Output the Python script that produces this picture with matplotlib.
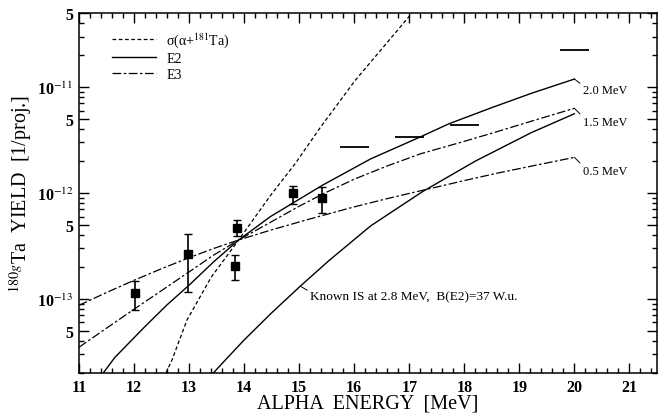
import numpy as np
import matplotlib
matplotlib.use('Agg')
import matplotlib.pyplot as plt
from matplotlib.ticker import FixedLocator, LogLocator, MultipleLocator, NullFormatter

plt.rcParams['font.family'] = ['Liberation Serif', 'DejaVu Serif']
plt.rcParams['mathtext.fontset'] = 'stix'

# sigma(alpha + 181Ta), dashed
sig_e = [12.58, 12.69, 12.96, 13.4, 13.9, 14.48, 14.93, 15.39, 16.02, 16.33, 17.05]
sig_y = [2.0e-14, 2.66e-14, 6.3e-14, 1.6e-13, 3.6e-13, 9.5e-13, 1.9e-12, 4.2e-12, 1.16e-11, 1.8e-11, 5.0e-11]

# E2, 2.0 MeV state
e2_e = [11.44, 11.65, 12.2, 12.6, 13.0, 13.45, 13.9, 14.48, 15.43, 16.3, 17.21, 17.72, 18.5, 19.21, 20.0]
e2_y = [2.0e-14, 2.8e-14, 5.5e-14, 8.8e-14, 1.35e-13, 2.25e-13, 3.6e-13, 6.0e-13, 1.19e-12, 2.1e-12,
        3.4e-12, 4.5e-12, 6.4e-12, 8.7e-12, 1.19e-11]

# E2, known IS at 2.8 MeV
known_e = [13.44, 13.66, 14.0, 14.5, 15.02, 15.54, 16.3, 17.24, 18.2, 19.21, 20.0]
known_y = [2.0e-14, 2.66e-14, 4.1e-14, 7.4e-14, 1.32e-13, 2.3e-13, 4.9e-13, 1.03e-12, 2.0e-12, 3.7e-12, 5.6e-12]

# E3, 1.5 MeV state
e3a_e = [11.0, 11.5, 12.0, 12.5, 13.0, 13.45, 13.9, 14.48, 15.0, 15.43, 16.0, 16.6, 17.21, 17.93, 18.6, 19.21, 20.0]
e3a_y = [3.5e-14, 5.3e-14, 8.0e-14, 1.2e-13, 1.8e-13, 2.6e-13, 3.6e-13, 5.3e-13, 7.5e-13, 9.8e-13,
         1.35e-12, 1.8e-12, 2.35e-12, 3.0e-12, 3.8e-12, 4.75e-12, 6.3e-12]

# E3, 0.5 MeV state
e3b_e = [11.0, 11.5, 12.0, 12.5, 13.0, 13.45, 13.9, 14.48, 15.2, 16.0, 16.6, 17.24, 18.0, 18.6, 19.21, 20.0]
e3b_y = [8.7e-14, 1.15e-13, 1.5e-13, 1.93e-13, 2.45e-13, 3.0e-13, 3.6e-13, 4.46e-13, 5.7e-13, 7.4e-13,
         8.85e-13, 1.06e-12, 1.31e-12, 1.54e-12, 1.79e-12, 2.17e-12]

# measured yields with error bars
pt_e = [12.02, 12.98, 13.87, 13.84, 14.88, 15.42]
pt_y = [1.14e-13, 2.64e-13, 4.65e-13, 2.05e-13, 1.0e-12, 9.0e-13]
pt_lo = [7.9e-14, 1.17e-13, 3.9e-13, 1.51e-13, 7.9e-13, 6.45e-13]
pt_hi = [1.48e-13, 4.1e-13, 5.6e-13, 2.6e-13, 1.16e-12, 1.15e-12]

# horizontal bars at higher energies
bar_e = [16.0, 17.0, 18.0, 20.0]
bar_y = [2.72e-12, 3.37e-12, 4.38e-12, 2.23e-11]

ytick_vals = [5e-14, 1e-13, 5e-13, 1e-12, 5e-12, 1e-11, 5e-11]
ytick_text = ['5', '10$^{-13}$', '5', '10$^{-12}$', '5', '10$^{-11}$', '5']
xtick_vals = list(range(11, 22))

fig = plt.figure(figsize=(6.64, 4.14), dpi=100)
ax = fig.add_axes([79 / 664, 40 / 414, 578 / 664, 360 / 414])

dash = (0, (3, 2))
dashdot = (0, (7, 2, 2, 2))

ax.plot(sig_e, sig_y, color='black', lw=0.9, linestyle=dash, label='σ(α+$^{181}$Ta)')
ax.plot(e2_e, e2_y, color='black', lw=1.0, linestyle='-', label='E2')
ax.plot(known_e, known_y, color='black', lw=1.0, linestyle='-')
ax.plot(e3a_e, e3a_y, color='black', lw=0.9, linestyle=dashdot, label='E3')
ax.plot(e3b_e, e3b_y, color='black', lw=0.9, linestyle=dashdot)

yerr = [np.array(pt_y) - np.array(pt_lo), np.array(pt_hi) - np.array(pt_y)]
ax.errorbar(pt_e, pt_y, yerr=yerr, fmt='s', color='black', ms=6, elinewidth=1.2,
            capsize=3.2, capthick=1.0)

half = 0.26
ax.hlines(bar_y, np.array(bar_e) - half, np.array(bar_e) + half, color='black', lw=1.3)

# curve labels
lab_kw = dict(textcoords='offset points', ha='left', va='center', fontsize=9,
              arrowprops=dict(arrowstyle='-', lw=0.7, color='black', shrinkA=0, shrinkB=0,
                              relpos=(0, 0.9)))
ax.annotate('2.0 MeV', xy=(e2_e[-1], e2_y[-1]), xytext=(6, -8), **lab_kw)
ax.annotate('1.5 MeV', xy=(e3a_e[-1], e3a_y[-1]), xytext=(6, -9.5), **lab_kw)
ax.annotate('0.5 MeV', xy=(e3b_e[-1], e3b_y[-1]), xytext=(6, -9.5), **lab_kw)
lab_kw['fontsize'] = 9.5
ax.annotate('Known IS at 2.8 MeV,  B(E2)=37 W.u.', xy=(known_e[4], known_y[4]),
            xytext=(7, -7.5), **lab_kw)

ax.set_yscale('log')
ax.set_xlim(11, 21.5)
ax.set_ylim(2e-14, 5e-11)

ax.xaxis.set_major_locator(FixedLocator(xtick_vals))
ax.xaxis.set_minor_locator(MultipleLocator(0.2))
ax.set_xticklabels([str(v) for v in xtick_vals])
ax.yaxis.set_major_locator(FixedLocator(ytick_vals))
ax.set_yticklabels(ytick_text)
ax.yaxis.set_minor_locator(LogLocator(base=10, subs=[2, 3, 4, 6, 7, 8, 9], numticks=30))
ax.yaxis.set_minor_formatter(NullFormatter())

ax.tick_params(which='both', direction='in', top=True, right=True, width=1.0)
ax.tick_params(which='major', length=7, labelsize=11.5, pad=4)
ax.tick_params(which='minor', length=3.5)
for lbl in ax.get_xticklabels() + ax.get_yticklabels():
    lbl.set_fontweight('bold')
for s in ax.spines.values():
    s.set_linewidth(1.1)

ax.set_xlabel('ALPHA  ENERGY  [MeV]', fontsize=14.5, labelpad=-1)
ax.set_ylabel('$^{180g}$Ta  YIELD  [1/proj.]', fontsize=14.5, labelpad=2)

ax.legend(loc='upper left', bbox_to_anchor=(0.057, 0.952), frameon=False, fontsize=10,
          handlelength=3.2, handletextpad=0.7, labelspacing=0.2, borderpad=0, borderaxespad=0)

fig.savefig('out.png', dpi=100)
